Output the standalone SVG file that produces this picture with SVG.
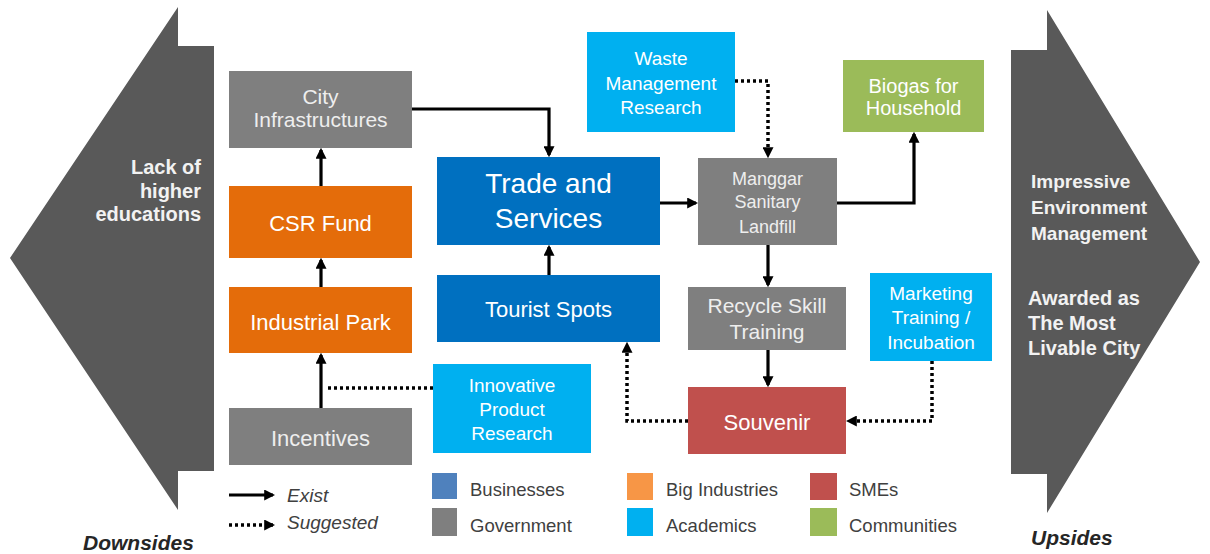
<svg xmlns="http://www.w3.org/2000/svg" width="1210" height="554" viewBox="0 0 1210 554">
<defs>
<marker id="ah" viewBox="0 0 10 10" refX="8" refY="5" markerWidth="11" markerHeight="11" markerUnits="userSpaceOnUse" orient="auto">
<path d="M0,0 L10,5 L0,10 z" fill="#000"/>
</marker>
</defs>
<style>
text{font-family:"Liberation Sans",Arial,sans-serif;}
.nt{fill:#fff;text-anchor:middle;}
.gt{fill:#eeeeee;text-anchor:middle;}
.side{fill:#595959;}
.st{fill:#f2f2f2;font-weight:bold;}
.gray{fill:#7f7f7f;}
.orange{fill:#e46c0a;}
.blue{fill:#0070c0;}
.cyan{fill:#00b0f0;}
.green{fill:#9bbb59;}
.red{fill:#c0504d;}
.ex{fill:none;stroke:#000;stroke-width:3.2;marker-end:url(#ah);}
.sg{fill:none;stroke:#000;stroke-width:3.5;stroke-dasharray:3 3;marker-end:url(#ah);}
.lt{fill:#404040;font-size:18.5px;}
.it{fill:#404040;font-size:19px;font-style:italic;}
.bi{fill:#262626;font-size:21px;font-style:italic;font-weight:bold;}
</style>
<rect width="1210" height="554" fill="#fff"/>

<g id="downsides">
<polygon class="side" points="178,7 178,46 214,46 214,471 178,471 178,510 10,258"/>
<text class="st" font-size="20" text-anchor="end"><tspan x="201" y="174">Lack of</tspan><tspan x="201" y="198">higher</tspan><tspan x="201" y="221">educations</tspan></text>
<text class="bi" x="83" y="550">Downsides</text>
</g>

<g id="upsides">
<polygon class="side" points="1047,10 1047,50 1011,50 1011,474 1047,474 1047,513 1200,262"/>
<text class="st" font-size="19"><tspan x="1031" y="188">Impressive</tspan><tspan x="1031" y="214">Environment</tspan><tspan x="1031" y="240">Management</tspan></text>
<text class="st" font-size="20"><tspan x="1028" y="305">Awarded as</tspan><tspan x="1028" y="330">The Most</tspan><tspan x="1028" y="355">Livable City</tspan></text>
<text class="bi" x="1031" y="545">Upsides</text>
</g>

<g id="connectors">
<path class="ex" d="M321,186 V150"/>
<path class="ex" d="M321,287 V260"/>
<path class="ex" d="M321,408 V355"/>
<path class="sg" style="marker-end:none" d="M433,388 H325"/>
<path class="ex" d="M412,109 H549 V155"/>
<path class="ex" d="M549,275 V247"/>
<path class="ex" d="M660,203 H696"/>
<path class="sg" d="M735,81 H768 V156"/>
<path class="ex" d="M837,203 H914 V134"/>
<path class="ex" d="M768,245 V285"/>
<path class="ex" d="M768,350 V385"/>
<path class="sg" d="M688,421 H627 V344"/>
<path class="sg" d="M932,361 V421 H848"/>
</g>

<g id="city-infrastructures">
<rect class="gray" x="229" y="71" width="183" height="77"/>
<text class="gt" font-size="21"><tspan x="320.5" y="104">City</tspan><tspan x="320.5" y="127">Infrastructures</tspan></text>
</g>
<g id="csr-fund">
<rect class="orange" x="229" y="186" width="183" height="72"/>
<text class="nt" font-size="22" x="320.5" y="231">CSR Fund</text>
</g>
<g id="industrial-park">
<rect class="orange" x="229" y="287" width="183" height="66"/>
<text class="nt" font-size="22" x="320.5" y="330">Industrial Park</text>
</g>
<g id="incentives">
<rect class="gray" x="229" y="408" width="183" height="57"/>
<text class="gt" font-size="22" x="320.5" y="446">Incentives</text>
</g>
<g id="trade-services">
<rect class="blue" x="437" y="157" width="223" height="88"/>
<text class="nt" font-size="28"><tspan x="548.5" y="193">Trade and</tspan><tspan x="548.5" y="228">Services</tspan></text>
</g>
<g id="tourist-spots">
<rect class="blue" x="437" y="275" width="223" height="67"/>
<text class="nt" font-size="22" x="548.5" y="317">Tourist Spots</text>
</g>
<g id="waste-management-research">
<rect class="cyan" x="587" y="32" width="148" height="100"/>
<text class="nt" font-size="19"><tspan x="661" y="65">Waste</tspan><tspan x="661" y="90">Management</tspan><tspan x="661" y="114">Research</tspan></text>
</g>
<g id="manggar-landfill">
<rect class="gray" x="698" y="158" width="139" height="87"/>
<text class="gt" font-size="18"><tspan x="767.5" y="185">Manggar</tspan><tspan x="767.5" y="208">Sanitary</tspan><tspan x="767.5" y="233">Landfill</tspan></text>
</g>
<g id="biogas">
<rect class="green" x="843" y="60" width="141" height="72"/>
<text class="nt" font-size="20"><tspan x="913.5" y="93">Biogas for</tspan><tspan x="913.5" y="115">Household</tspan></text>
</g>
<g id="recycle-skill-training">
<rect class="gray" x="688" y="287" width="158" height="63"/>
<text class="gt" font-size="21"><tspan x="767" y="313">Recycle Skill</tspan><tspan x="767" y="339">Training</tspan></text>
</g>
<g id="marketing-training">
<rect class="cyan" x="870" y="273" width="122" height="88"/>
<text class="nt" font-size="19"><tspan x="931" y="300">Marketing</tspan><tspan x="931" y="324">Training /</tspan><tspan x="931" y="349">Incubation</tspan></text>
</g>
<g id="souvenir">
<rect class="red" x="688" y="387" width="158" height="67"/>
<text class="nt" font-size="22" x="767" y="430">Souvenir</text>
</g>
<g id="innovative-product-research">
<rect class="cyan" x="433" y="364" width="158" height="89"/>
<text class="nt" font-size="19"><tspan x="512" y="392">Innovative</tspan><tspan x="512" y="416">Product</tspan><tspan x="512" y="440">Research</tspan></text>
</g>

<g id="legend">
<path class="ex" d="M229,495 H273"/>
<text class="it" x="287" y="502">Exist</text>
<path class="sg" d="M229,525 H273"/>
<text class="it" x="287" y="529">Suggested</text>
<rect x="432" y="473" width="25" height="26" fill="#4f81bd"/>
<text class="lt" x="470" y="496">Businesses</text>
<rect x="432" y="508" width="25" height="28" fill="#7f7f7f"/>
<text class="lt" x="470" y="532">Government</text>
<rect x="627" y="473" width="26" height="27" fill="#f79646"/>
<text class="lt" x="666" y="496">Big Industries</text>
<rect x="627" y="508" width="26" height="28" fill="#00b0f0"/>
<text class="lt" x="666" y="532">Academics</text>
<rect x="810" y="473" width="27" height="27" fill="#c0504d"/>
<text class="lt" x="849" y="496">SMEs</text>
<rect x="810" y="508" width="27" height="28" fill="#9bbb59"/>
<text class="lt" x="849" y="532">Communities</text>
</g>
</svg>
